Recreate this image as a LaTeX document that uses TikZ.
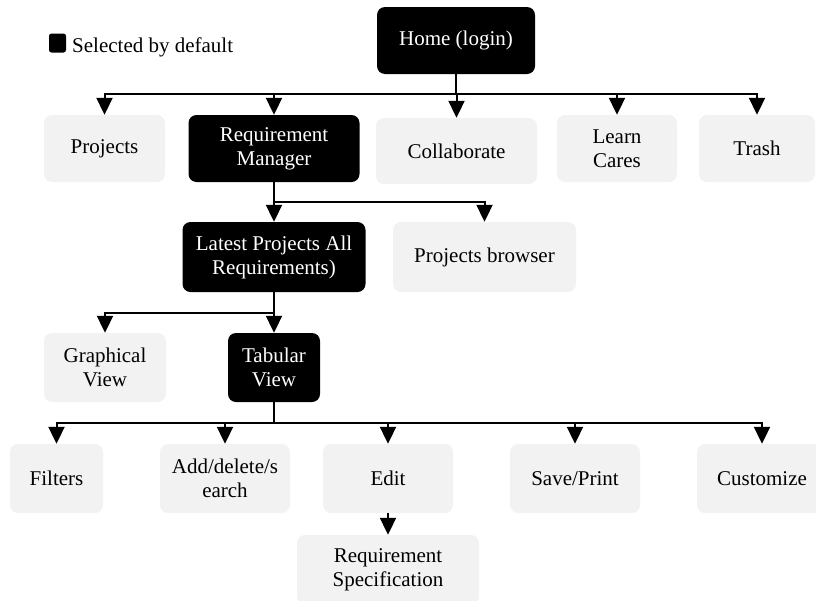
\documentclass[tikz,border=0pt]{standalone}
\usepackage{fontspec}
\setmainfont{Liberation Serif}
\usetikzlibrary{arrows.meta}
\definecolor{boxgray}{HTML}{F2F2F2}
\begin{document}
\begin{tikzpicture}[x=1pt,y=-1pt,
  base/.style={rounded corners=8pt, inner sep=0pt, align=center,
               font=\fontsize{21}{24}\selectfont},
  selbox/.style={base, fill=black, text=white},
  optbox/.style={base, fill=boxgray, text=black},
  wire/.style={line width=2pt},
  link/.style={line width=2pt, -{Triangle[width=16pt,length=17pt]}},
]
\useasboundingbox (0,0) rectangle (816,600);
\clip (0,0) rectangle (816,600);

% legend
\node[fill=black, rounded corners=2.5pt, inner sep=0pt,
      minimum width=17pt, minimum height=19pt] (legendkey) at (57.5,43) {};
\node[anchor=base west, inner sep=0pt, font=\fontsize{21}{24}\selectfont]
      (legendtext) at (72,52.5) {Selected by default};

% level 0
\node[selbox, minimum width=158pt, minimum height=67pt] (home) at (456,40.5) {Home (login)};

% level 1
\node[optbox, minimum width=121pt, minimum height=67pt] (projects) at (104.5,148.5) {Projects};
\node[selbox, minimum width=171pt, minimum height=67pt] (reqmgr) at (274,148.5) {Requirement\\Manager};
\node[optbox, minimum width=161pt, minimum height=66pt] (collab) at (456.5,151) {Collaborate};
\node[optbox, minimum width=120pt, minimum height=67pt] (learn) at (617,148.5) {Learn\\Cares};
\node[optbox, minimum width=116pt, minimum height=67pt] (trash) at (757,148.5) {Trash};

% level 2
\node[selbox, minimum width=183pt, minimum height=70pt] (latest) at (274,257) {Latest Projects All\\Requirements)};
\node[optbox, minimum width=183pt, minimum height=70pt] (browser) at (484.5,257) {Projects browser};

% level 3
\node[optbox, minimum width=122pt, minimum height=69pt] (graphical) at (105,367.5) {Graphical\\View};
\node[selbox, minimum width=92pt, minimum height=69pt] (tabular) at (274,367.5) {Tabular\\View};

% level 4
\node[optbox, minimum width=93pt, minimum height=69pt] (filters) at (56.5,478.5) {Filters};
\node[optbox, minimum width=130pt, minimum height=69pt] (adddel) at (225,478.5) {Add/delete/s\\earch};
\node[optbox, minimum width=130pt, minimum height=69pt] (edit) at (388,478.5) {Edit};
\node[optbox, minimum width=130pt, minimum height=69pt] (saveprint) at (575,478.5) {Save/Print};
\node[optbox, minimum width=130pt, minimum height=69pt] (customize) at (762,478.5) {Customize};

% level 5
\node[optbox, minimum width=182pt, minimum height=70pt] (reqspec) at (388,570) {Requirement\\Specification};

% bus junctions
\coordinate (bus1) at (456,94);
\coordinate (bus2) at (274,202);
\coordinate (bus3) at (274,313);
\coordinate (bus4) at (274,423);

% connectors
\draw[wire] (home.south) -- (bus1);
\foreach \child in {projects,reqmgr,collab,learn,trash}
  \draw[link] (bus1) -| (\child.north);

\draw[wire] (reqmgr.south) -- (bus2);
\foreach \child in {latest,browser}
  \draw[link] (bus2) -| (\child.north);

\draw[wire] (latest.south) -- (bus3);
\foreach \child in {graphical,tabular}
  \draw[link] (bus3) -| (\child.north);

\draw[wire] (tabular.south) -- (bus4);
\foreach \child in {filters,adddel,edit,saveprint,customize}
  \draw[link] (bus4) -| (\child.north);

\draw[link] (edit.south) -- (reqspec.north);
\end{tikzpicture}
\end{document}
